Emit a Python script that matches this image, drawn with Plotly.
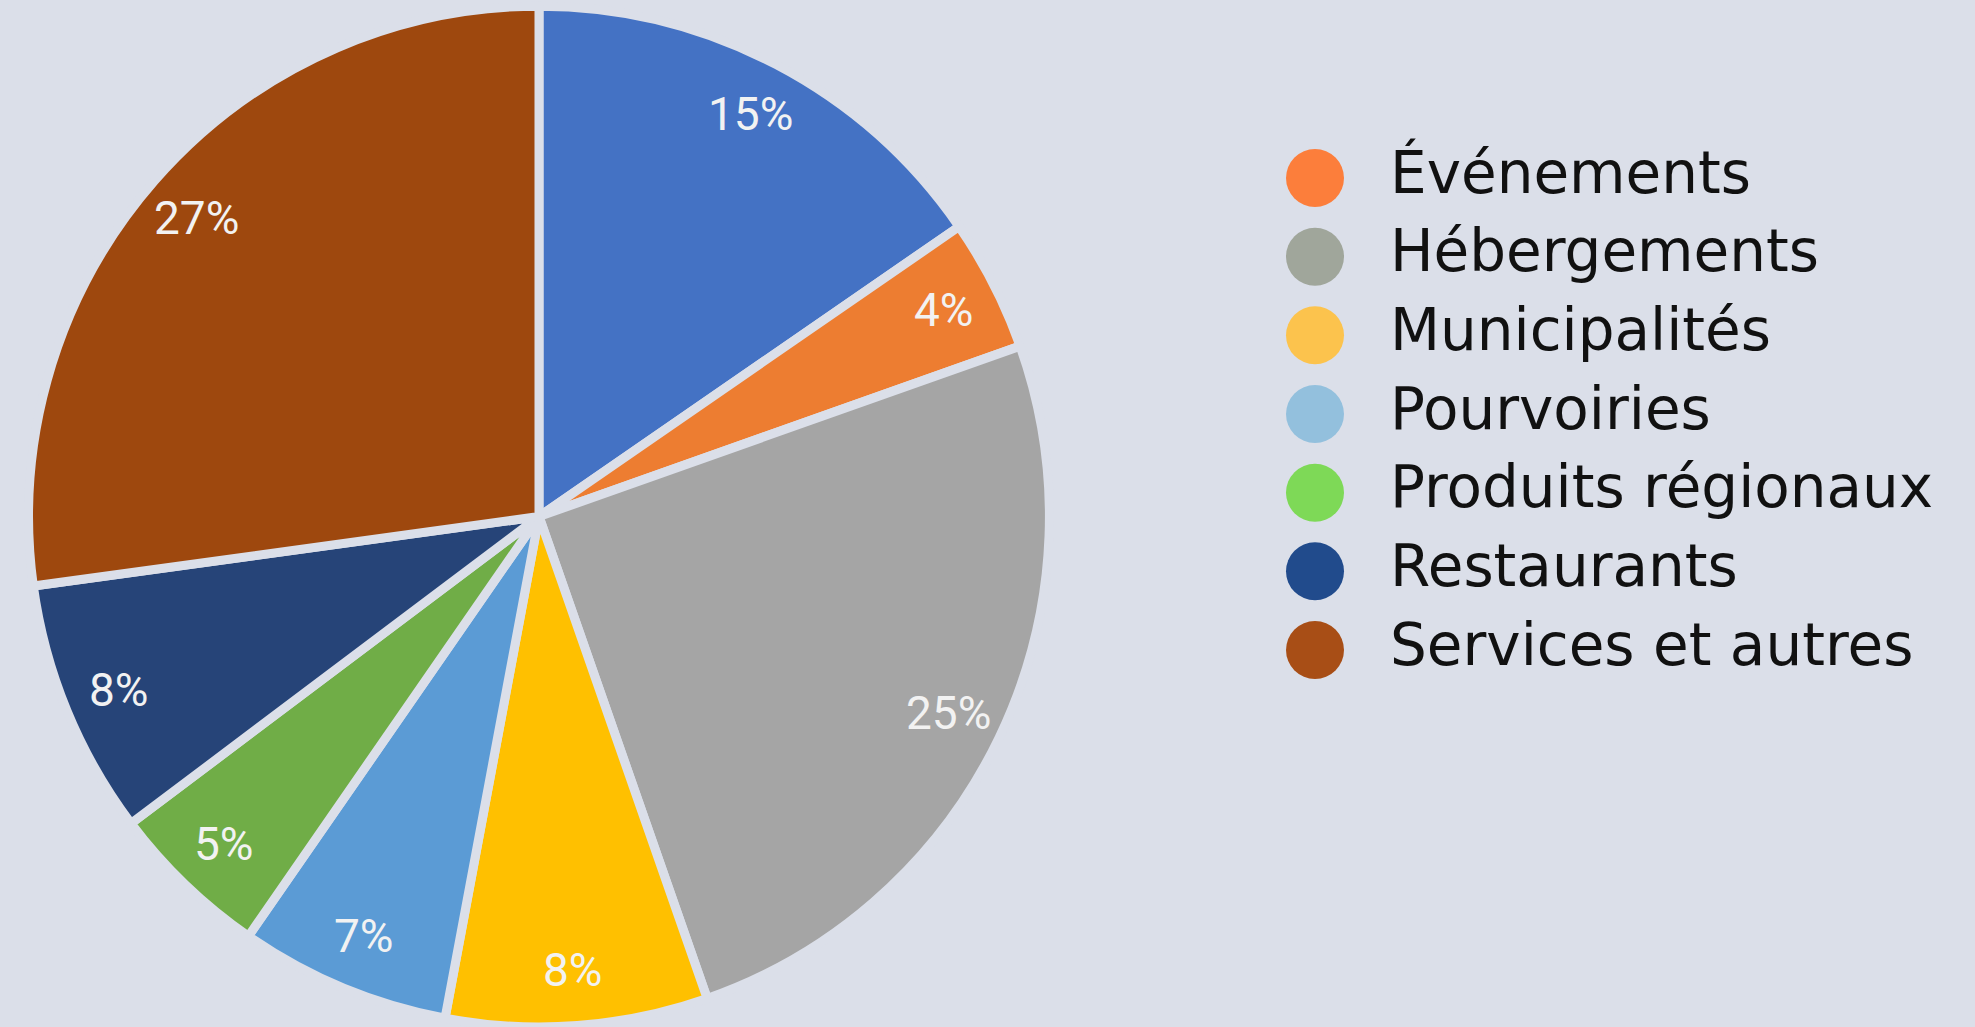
import math
import plotly.graph_objects as go

# ---------------- data ----------------
pie_labels = ["Non classé", "Événements", "Hébergements", "Municipalités", "Pourvoiries",
              "Produits régionaux", "Restaurants", "Services et autres"]
pie_values = [15.4, 4.2, 25.1, 8.3, 6.7, 5.1, 8.1, 27.2]
pie_colors = ["#4472C4", "#ED7D31", "#A5A5A5", "#FFC000", "#5B9BD5", "#70AD47", "#264478", "#9E480E"]

legend_labels = ["Événements", "Hébergements", "Municipalités", "Pourvoiries",
                 "Produits régionaux", "Restaurants", "Services et autres"]
legend_colors = ["#FC7E3B", "#A0A69B", "#FCC34D", "#93C0DD", "#7ED957", "#214B8C", "#A84E16"]

# ---------------- layout constants ----------------
W, H = 1975, 1027
BG = "#DBDFE9"
pie_dom_x = [0.0, 1078 / W]
pie_dom_y = [0.0, 0.994]

fig = go.Figure()

fig.add_trace(go.Pie(
    labels=pie_labels,
    values=pie_values,
    sort=False,
    direction="clockwise",
    rotation=0,
    marker=dict(colors=pie_colors, line=dict(color=BG, width=9)),
    textinfo="none",
    showlegend=False,
    domain=dict(x=pie_dom_x, y=pie_dom_y),
    hovertemplate="%{label}: %{percent:.0%}<extra></extra>",
))

# percentage labels placed along each slice bisector (computed from the values)
dom_h = (pie_dom_y[1] - pie_dom_y[0]) * H
R = min(dom_h, (pie_dom_x[1] - pie_dom_x[0]) * W) / 2
cx = (pie_dom_x[0] + pie_dom_x[1]) / 2 * W
cy = H * (1 - pie_dom_y[1]) + dom_h / 2
total = sum(pie_values)
cum = 0.0
annotations = []
for v in pie_values:
    mid = (cum + v / 2) / total * 2 * math.pi
    cum += v
    px = cx + 0.89 * R * math.sin(mid)
    py = cy - 0.89 * R * math.cos(mid)
    annotations.append(dict(
        x=px / W, y=1 - py / H, xref="paper", yref="paper",
        text=f"{round(v / total * 100)}%", showarrow=False,
        xanchor="center", yanchor="middle",
        font=dict(family="Liberation Sans Narrow, Roboto, Open Sans, sans-serif", size=46, color="#F2F2F2"),
    ))

# custom legend: big circles + labels
idx = list(range(len(legend_labels)))
fig.add_trace(go.Scatter(
    x=[0] * len(idx), y=idx, mode="markers",
    marker=dict(size=58, color=legend_colors, line=dict(width=0)),
    cliponaxis=False, showlegend=False, hoverinfo="skip",
    xaxis="x", yaxis="y",
))
fig.add_trace(go.Scatter(
    x=[1] * len(idx), y=idx, mode="text", text=legend_labels,
    textposition="middle right",
    textfont=dict(family="DejaVu Sans, sans-serif", size=58, color="#111111"),
    cliponaxis=False, showlegend=False, hoverinfo="skip",
    xaxis="x", yaxis="y",
))

fig.update_layout(
    width=W, height=H,
    margin=dict(l=0, r=0, t=0, b=0),
    paper_bgcolor=BG, plot_bgcolor=BG,
    showlegend=False,
    annotations=annotations,
    xaxis=dict(domain=[1315 / W, 1390 / W], range=[0, 1], visible=False, fixedrange=True),
    yaxis=dict(domain=[1 - 650 / H, 1 - 178 / H], range=[6, 0], visible=False, fixedrange=True),
)

fig.write_html(
    "out.html",
    config={"displayModeBar": False},
    post_script="document.body.style.margin='0';document.body.style.overflow='hidden';"
                "document.documentElement.style.overflow='hidden';",
)
